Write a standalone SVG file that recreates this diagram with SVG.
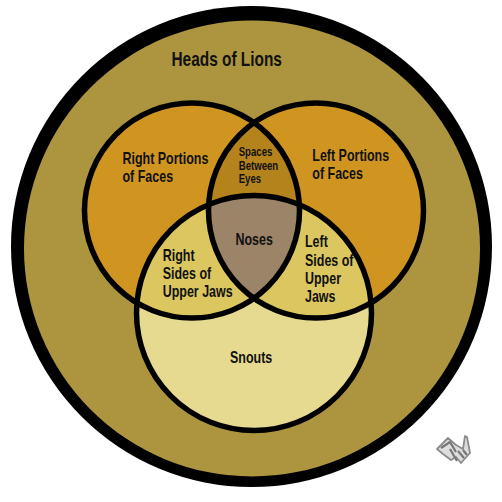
<svg xmlns="http://www.w3.org/2000/svg" width="502" height="502" viewBox="0 0 502 502">
<style>
text{font-family:"Liberation Sans",Arial,sans-serif;font-weight:700;font-size:16px;fill:#111}
.o{fill:none;stroke:#000;stroke-width:5.500}
.s{font-size:12.500px}
</style>
<defs>
<clipPath id="cL"><circle cx="192" cy="210.500" r="107.500"/></clipPath>
<clipPath id="cR"><circle cx="316" cy="210.500" r="107.500"/></clipPath>
<clipPath id="cB"><circle cx="254" cy="313" r="117.500"/></clipPath>
</defs>
<rect width="502" height="502" fill="#fff"/>
<g id="heads-of-lions"><circle cx="251.500" cy="246.500" r="240.500" fill="#000"/><circle cx="252" cy="248.500" r="228" fill="#ad9540"/>
<text transform="translate(171.500 66) scale(.79 1)" style="font-size:19.500px">Heads of Lions</text></g>
<g id="regions">
<circle id="right-portions" cx="192" cy="210.500" r="107.500" fill="#cf9520"/>
<circle id="left-portions" cx="316" cy="210.500" r="107.500" fill="#cf9520"/>
<circle id="snouts" cx="254" cy="313" r="117.500" fill="#e6da90"/>
<g clip-path="url(#cB)"><circle id="right-sides" cx="192" cy="210.500" r="107.500" fill="#dbc660"/><circle id="left-sides" cx="316" cy="210.500" r="107.500" fill="#dbc660"/></g>
<g clip-path="url(#cL)"><circle id="spaces" cx="316" cy="210.500" r="107.500" fill="#b5831c"/></g>
<g clip-path="url(#cL)"><g clip-path="url(#cR)"><circle id="noses" cx="254" cy="313" r="117.500" fill="#9c8468"/></g></g>
</g>
<g id="connectors"><circle class="o" cx="192" cy="210.500" r="107.500"/><circle class="o" cx="316" cy="210.500" r="107.500"/><circle class="o" cx="254" cy="313" r="117.500"/></g>
<g id="labels">
<g transform="translate(122.500 164) scale(.78 1)"><text>Right Portions</text><text y="18">of Faces</text></g>
<g transform="translate(312.300 161) scale(.78 1)"><text>Left Portions</text><text y="18.300">of Faces</text></g>
<g transform="translate(238.700 156) scale(.77 1)"><text class="s">Spaces</text><text class="s" y="14">Between</text><text class="s" y="27.500">Eyes</text></g>
<g transform="translate(235.500 245) scale(.78 1)"><text>Noses</text></g>
<g transform="translate(162.700 260.700) scale(.78 1)"><text>Right</text><text y="18">Sides of</text><text y="36">Upper Jaws</text></g>
<g transform="translate(305 247.300) scale(.78 1)"><text>Left</text><text y="18.400">Sides of</text><text y="36.700">Upper</text><text y="55">Jaws</text></g>
<g transform="translate(230 363.300) scale(.78 1)"><text>Snouts</text></g>
</g>
<g id="logo" fill="none" stroke-linejoin="round">
<path d="M436 449L449 436L459 446L464 450L466 436L470 433" stroke="#fff" stroke-width="0"/>
<path d="M437 449L448 438L456 445L463 449L465 436L467 437L470 453L461 463L456 457L451 460L443 454Z" fill="#ddd" stroke="#8c8c8c" stroke-width="1.800"/>
<path d="M441 448L450 442L456 452M450 449L457 461M458 451L464 458M463 450L467 455" stroke="#777" stroke-width="2.200"/>
</g>
</svg>
